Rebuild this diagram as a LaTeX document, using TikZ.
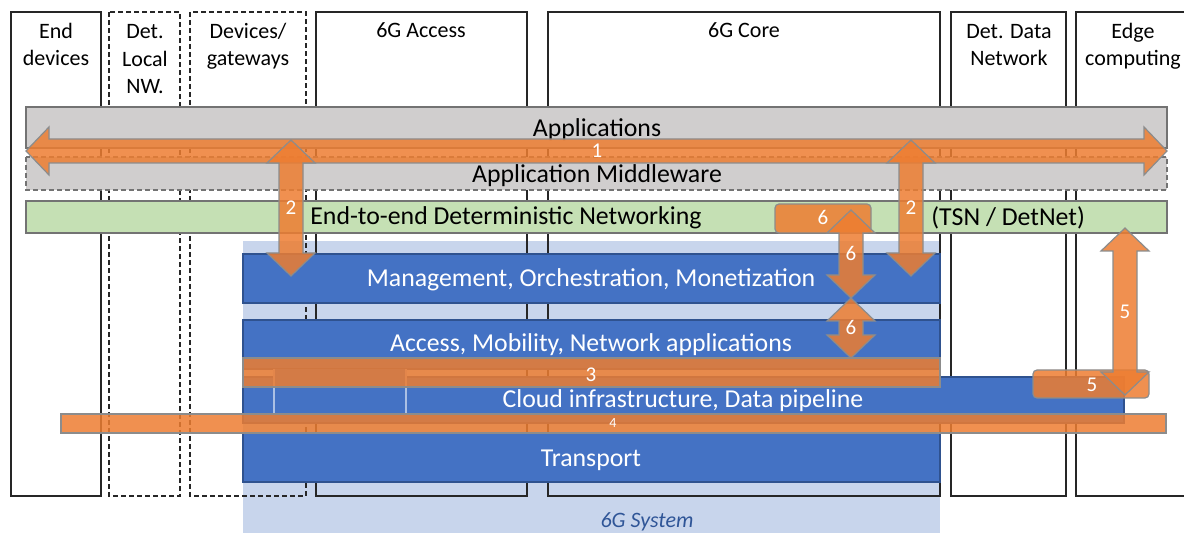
\documentclass[tikz,border=0pt]{standalone}
\usepackage{fontspec}
\setmainfont{Carlito}
\usetikzlibrary{positioning}
\definecolor{appgray}{HTML}{D0CECE}
\definecolor{detgreen}{HTML}{C5E0B4}
\definecolor{sysblue}{HTML}{C8D5EC}
\definecolor{layerblue}{HTML}{4472C4}
\definecolor{layeredge}{HTML}{2F528F}
\definecolor{flow}{HTML}{ED7D31}
\definecolor{sysfont}{HTML}{2F5597}

% vertical double block arrow: name, x, top tip, bottom tip, label
\newcommand\vflow[5]{%
  \draw[flowshape] (#2,#3) -- ++(24,23) -- ++(-12,0) -- (#2+12,#4-23) -- ++(12,0)
    -- (#2,#4) -- ++(-24,-23) -- ++(12,0) -- (#2-12,#3+23) -- ++(-12,0) -- cycle;
  \node[flowlbl] (#1) at (#2,{(#3+#4)/2+7}) {#5};}

\begin{document}
\begin{tikzpicture}[x=0.5pt, y=-0.5pt,
	hdr/.style={font=\fontsize{11}{13.85}\selectfont, align=center, inner sep=0pt, anchor=base},
	big/.style={font=\fontsize{12.9}{15}\selectfont, inner sep=0pt, anchor=base},
	column/.style={draw=black!85, line width=0.6pt},
	detcol/.style={column, dash pattern=on 2.5pt off 1.5pt},
	bar/.style={fill=appgray, draw=black!55, line width=0.6pt},
	layer/.style={fill=layerblue, draw=layeredge, line width=0.6pt},
	flowshape/.style={fill=flow, fill opacity=0.85, draw=black!45, line width=0.6pt},
	flowlbl/.style={text=white, font=\fontsize{10.5}{12}\selectfont, inner sep=0pt, anchor=base}]
	\useasboundingbox (0,0) rectangle (1184,533);
	\clip (0,0) rectangle (1184,533);

	% 6G system area
	\fill[sysblue] (243,241) rectangle (940,533);
	\node[font=\fontsize{11}{13}\selectfont\itshape, text=sysfont, inner sep=0pt, anchor=base] (sys) at (647,528) {6G System};

	% columns (base anchor sits on the last line)
	\draw[column] (11,12) rectangle (101,496);
	\draw[detcol] (109,12) rectangle (180,496);
	\draw[detcol] (190,12) rectangle (306,496);
	\draw[column] (316,12) rectangle (527,496);
	\draw[column] (548,12) rectangle (940,496);
	\draw[column] (951,12) rectangle (1066,496);
	\draw[column] (1076,12) rectangle (1200,496);
	\node[hdr] (enddev) at (56,66) {End\\devices};
	\node[hdr] (detlocal) at (145,94) {Det.\\Local\\NW.};
	\node[hdr] (devgw) at (248,66) {Devices/\\gateways};
	\node[hdr] (access) at (421,38) {6G Access};
	\node[hdr] (core) at (744,38) {6G Core};
	\node[hdr] (detdata) at (1009,66) {Det. Data\\Network};
	\node[hdr] (edge) at (1133,66) {Edge\\computing};

	% horizontal bars
	\draw[bar] (26,107) rectangle (1167,148);
	\draw[bar, dash pattern=on 2.5pt off 1.5pt] (26,157) rectangle (1167,190);
	\draw[bar, fill=detgreen] (26,201) rectangle (1167,233);
	\node[big] (apps) at (597,137) {Applications};
	\node[big] (middleware) at (597,183) {Application Middleware};
	\node[big, anchor=base west] (e2e) at (310,225) {End-to-end Deterministic Networking};
	\node[big, anchor=base west] (tsn) at (931,226) {(TSN / DetNet)};

	% 6G layers
	\draw[layer] (243,254) rectangle (940,303);
	\draw[layer] (243,320) rectangle (940,369);
	\draw[layer] (243,377) rectangle (1124,423);
	\fill[layerblue] (274,369) rectangle (406,413);
	\draw[white!55!layerblue, line width=0.6pt] (274,369) -- (274,413) (406,369) -- (406,413);
	\draw[layer] (243,433) rectangle (940,482);
	\node[big, text=white] (mgmt) at (591,287) {Management, Orchestration, Monetization};
	\node[big, text=white] (amn) at (591,352) {Access, Mobility, Network applications};
	\node[big, text=white] (cloud) at (683,408) {Cloud infrastructure, Data pipeline};
	\node[big, text=white] (transport) at (591,467) {Transport};

	% flows
	\draw[flowshape] (26,151) -- (49,127) -- (49,139) -- (1144,139) -- (1144,127) -- (1167,151)
		-- (1144,175) -- (1144,163) -- (49,163) -- (49,175) -- cycle;
	\node[flowlbl] (f1) at (597,158) {1};
	\vflow{f2a}{291}{140}{276}{2}
	\vflow{f2b}{911}{140}{276}{2}
	\draw[flowshape, rounded corners=2pt] (775,204) rectangle (871,233);
	\node[flowlbl] (f6box) at (823,225) {6};
	\vflow{f6a}{851}{210}{298}{6}
	\vflow{f6b}{851}{298}{358}{6}
	\draw[flowshape, rounded corners=2pt] (1033,370) rectangle (1149,398);
	\node[flowlbl] (f5box) at (1092,392) {5};
	\vflow{f5}{1125}{228}{395}{5}
	\draw[flowshape] (243,358) rectangle (940,387);
	\node[flowlbl] (f3) at (591,382) {3};
	\draw[flowshape] (61,414) rectangle (1166,433);
	\node[flowlbl, font=\fontsize{7}{8}\selectfont] (f4) at (613,428) {4};
\end{tikzpicture}
\end{document}
